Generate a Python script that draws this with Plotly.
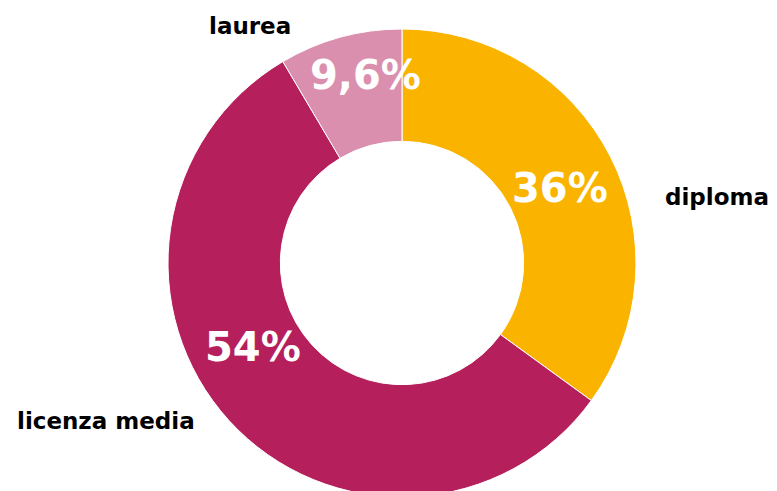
import plotly.graph_objects as go

# categorie e quote (angoli), etichette come stampate
categorie = ["diploma", "licenza media", "laurea"]
quote = [35.0, 56.5, 8.5]
etichette_pct = ["36%", "54%", "9,6%"]
colori = ["#FAB400", "#B5205C", "#DB8FAE"]

W, H = 777, 491

fig = go.Figure(go.Pie(
    labels=categorie,
    values=quote,
    textinfo="none",
    sort=False,
    direction="clockwise",
    rotation=0,
    hole=0.52,
    marker=dict(colors=colori, line=dict(color="white", width=1)),
    domain=dict(x=[160 / W, 628 / W], y=[2 / H, 470 / H]),
    showlegend=False,
    hoverinfo="label+text",
    hovertext=etichette_pct,
))

# posizioni (px) delle etichette: nome categoria fuori, percentuale dentro
pos_nome = {"diploma": (709, 189), "licenza media": (98, 413), "laurea": (242, 18)}
pos_pct = {"diploma": (552, 180), "licenza media": (245, 339), "laurea": (357, 67)}

for nome, pct in zip(categorie, etichette_pct):
    x, y = pos_nome[nome]
    fig.add_annotation(
        x=x / W, y=1 - y / H, xref="paper", yref="paper",
        text=nome, showarrow=False, xanchor="center", yanchor="middle",
        font=dict(family="DejaVu Sans", size=23, color="black", weight="bold"),
    )
    x, y = pos_pct[nome]
    fig.add_annotation(
        x=x / W, y=1 - y / H, xref="paper", yref="paper",
        text=pct, showarrow=False, xanchor="center", yanchor="middle",
        font=dict(family="DejaVu Sans", size=40, color="white", weight="bold"),
    )

fig.update_layout(
    width=W, height=H,
    margin=dict(l=0, r=0, t=0, b=0),
    paper_bgcolor="white",
)

fig.write_html("out.html")
